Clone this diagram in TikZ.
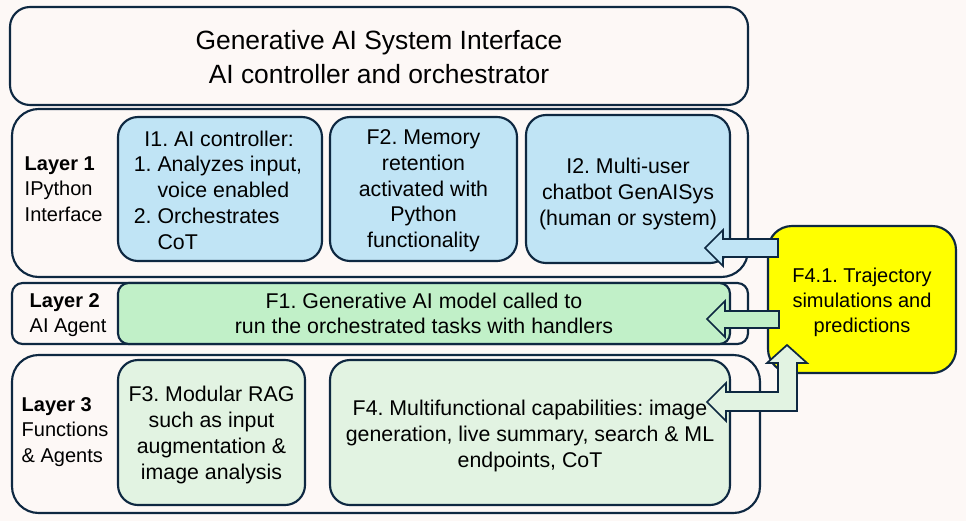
\documentclass[tikz,border=0pt]{standalone}
\usepackage{fontspec}
\setmainfont{Liberation Sans}
\usetikzlibrary{fit}
\definecolor{bg}{HTML}{FDF8F6}
\definecolor{navy}{HTML}{0E2841}
\definecolor{lblue}{HTML}{C0E4F5}
\definecolor{lgreen}{HTML}{C1F0C8}
\definecolor{dgreen}{HTML}{E2F3E2}
\definecolor{yel}{HTML}{FFFF00}
\frenchspacing
\begin{document}
\frenchspacing
\begin{tikzpicture}[x=0.75pt,y=-0.75pt,
  box/.style={draw=navy, line width=1.6pt, rounded corners=15pt, inner sep=0pt},
  smallbox/.style={box, rounded corners=8pt},
  body/.style={font=\fontsize{16}{19.3}\selectfont, align=center, text=black},
  lbl/.style={font=\fontsize{15}{19}\selectfont, align=left, anchor=west, text=black},
  blockarrow/.style={draw=navy, line width=1.3pt, line join=miter}]
\fill[bg] (0,0) rectangle (966,521);
\useasboundingbox (0,0) rectangle (966,521);

% title
\node[box, fill=bg, fit={(10,7) (748,105)}] (title) {};
\node[font=\fontsize{19.8}{25}\selectfont, align=center] (titletxt) at (379,57)
  {Generative AI System Interface\\AI controller and orchestrator};

% layer 1
\node[box, rounded corners=20pt, fill=bg, fit={(12,109) (748,277)}] (L1) {};
\node[lbl] (L1txt) at (20,189) {\textbf{Layer 1}\\IPython\\Interface};
\node[box, fill=lblue, fit={(118,117) (322,261)}] (I1) {};
\node[body, align=left] (I1txt) at (218,190)
  {\hspace*{0.5em}I1. AI controller:\\1. Analyzes input,\\\hphantom{1. }voice enabled\\2. Orchestrates\\\hphantom{2. }CoT};
\node[box, fill=lblue, fit={(330,117) (517,261)}] (F2) {};
\node[body] (F2txt) at (423.5,191)
  {F2. Memory\\retention\\activated with\\Python\\functionality};
\node[box, fill=lblue, fit={(526,115) (730,263)}] (I2) {};
\node[body] (I2txt) at (628,194)
  {I2. Multi-user\\chatbot GenAISys\\(human or system)};

% layer 2
\node[smallbox, fill=bg, fit={(12,283) (748,344)}] (L2) {};
\node[lbl] (L2txt) at (25,315) {\textbf{Layer 2}\\AI Agent};
\node[smallbox, fill=lgreen, fit={(118,283) (730,344)}] (F1) {};
\node[body] (F1txt) at (F1.center)
  {F1. Generative AI model called to\\run the orchestrated tasks with handlers};

% layer 3
\node[box, rounded corners=20pt, fill=bg, fit={(12,355) (760,513)}] (L3) {};
\node[lbl] (L3txt) at (17,432) {\textbf{Layer 3}\\Functions\\\& Agents};
\node[box, fill=dgreen, fit={(118,360) (305,505)}] (F3) {};
\node[body] (F3txt) at (211.5,435)
  {F3. Modular RAG\\such as input\\augmentation \&\\image analysis};
\node[box, fill=dgreen, fit={(330,360) (730,505)}] (F4) {};
\node[body] (F4txt) at (530,436)
  {F4. Multifunctional capabilities: image\\generation, live summary, search \& ML\\endpoints, CoT};

% yellow
\node[box, rounded corners=18pt, fill=yel, fit={(768,226) (956,373)}] (F41) {};
\node[font=\fontsize{15}{18.8}\selectfont, align=center] (F41txt) at (862,302)
  {F4.1. Trajectory\\simulations and\\predictions};

% block arrows
\draw[blockarrow, fill=lblue] (778,239) -- (723,239) -- (723,230) -- (705,248)
  -- (723,266) -- (723,257) -- (778,257) -- cycle;
\draw[blockarrow, fill=lgreen] (779,311) -- (725,311) -- (725,301) -- (707,319)
  -- (725,337) -- (725,328) -- (779,328) -- cycle;
\draw[blockarrow, fill=dgreen] (707,402) -- (726,383) -- (726,392) -- (778,392)
  -- (778,363) -- (767,363) -- (787,345) -- (807,363) -- (797,363) -- (797,411)
  -- (726,411) -- (726,421) -- cycle;
\end{tikzpicture}
\end{document}
